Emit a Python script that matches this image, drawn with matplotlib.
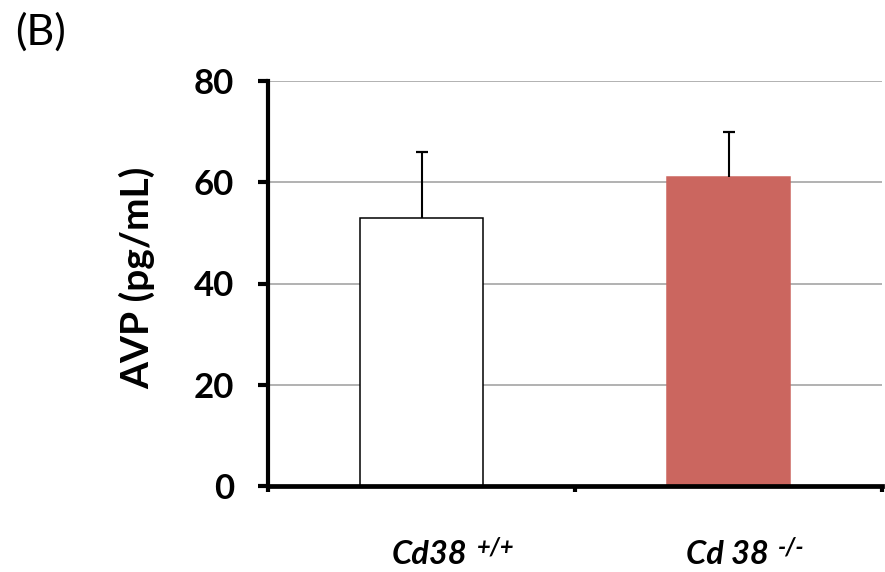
import matplotlib
matplotlib.use('Agg')
import matplotlib.pyplot as plt

# values
groups = ['Cd38', 'Cd 38']
genotypes = ['+/+', '-/-']
avp = [53, 61]
avp_err = [13, 9]
bar_colors = ['white', '#CB665F']
bar_edges = ['black', '#CB665F']
yticks = [0, 20, 40, 60, 80]

plt.rcParams['font.family'] = ['Lato', 'DejaVu Sans']

fig = plt.figure(figsize=(8.85, 5.72), dpi=100)
ax = fig.add_axes([268/885, 1 - 486/572, 614/885, 405/572])

xpos = [0.5, 1.5]
ax.bar(xpos, avp, width=0.4, color=bar_colors, edgecolor=bar_edges,
       linewidth=1.1, zorder=3)
eb = ax.errorbar(xpos, avp, yerr=[[0, 0], avp_err], fmt='none', ecolor='black',
                 elinewidth=1.5, capsize=4.5, capthick=1.6, zorder=4)
# only the upper cap is drawn in the original
eb[1][0].set_visible(False)

ax.set_xlim(0, 2)
ax.set_ylim(0, 80)
ax.set_yticks(yticks)
ax.set_xticks([0, 1, 2])
ax.set_xticklabels([])
ax.yaxis.grid(True, color='#ABABAB', linewidth=1.3, zorder=0)
ax.set_axisbelow(True)

for s in ['top', 'right']:
    ax.spines[s].set_visible(False)
ax.spines['left'].set_linewidth(3)
ax.spines['bottom'].set_linewidth(3.4)
ax.spines['left'].set_zorder(5)
ax.spines['bottom'].set_zorder(5)
ax.tick_params(axis='y', direction='out', length=7.5, width=3, pad=17,
               labelsize=25)
ax.tick_params(axis='x', direction='out', length=4.5, width=3)
for lab in ax.get_yticklabels():
    lab.set_fontweight('bold')

# x labels with superscript genotype
trans = ax.get_xaxis_transform()
offsets = [-29.5, -42.5]
for x, g, sup, dx in zip(xpos, groups, genotypes, offsets):
    t = ax.annotate(g, xy=(x, 0), xycoords=trans, xytext=(dx, -78),
                    textcoords='offset pixels', ha='left', va='baseline',
                    fontsize=23.5, fontweight='bold', fontstyle='italic',
                    annotation_clip=False)
    ax.annotate(sup, xy=(1, 1), xycoords=t, xytext=(9, 5),
                textcoords='offset pixels', ha='left', va='top',
                fontsize=17, fontweight='bold', fontstyle='italic',
                annotation_clip=False)

fig.text(137/885, 1 - 278/572, 'AVP (pg/mL)', rotation=90, ha='center',
         va='center', fontsize=28, fontweight='bold')
fig.text(15/885, 1 - 32/572, '(B)', ha='left', va='center', fontsize=31)

fig.savefig('out.png', dpi=100)
